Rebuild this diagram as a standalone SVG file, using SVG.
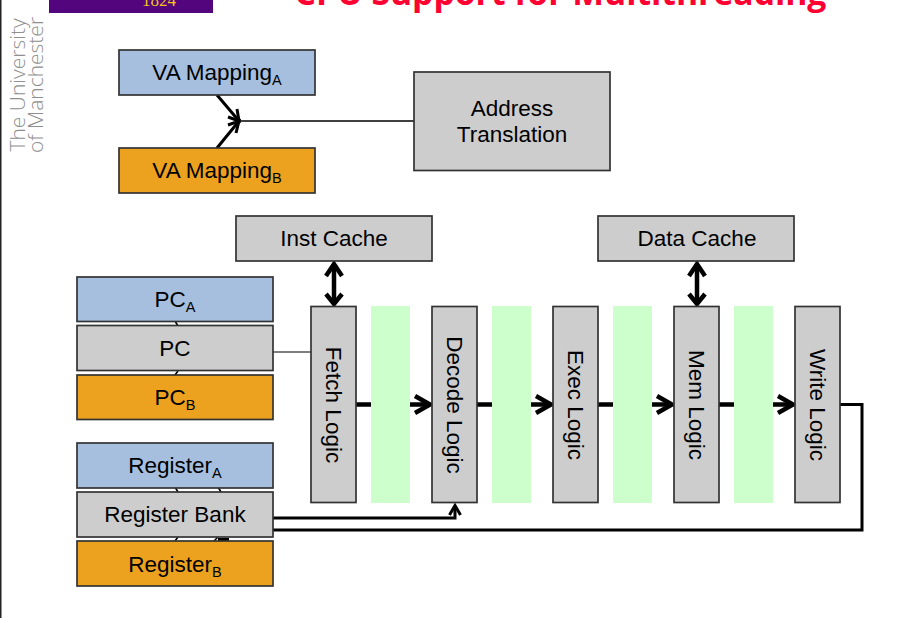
<svg xmlns="http://www.w3.org/2000/svg" width="899" height="618" viewBox="0 0 899 618">
<defs>
<style>
text{font-family:"Liberation Sans",Arial,sans-serif;fill:#000;text-anchor:middle}
.lbl{font-size:22.500px}
.sub{font-size:14.500px}
.box{stroke:#333;stroke-width:1.700}
.blue{fill:#a6bfdf}
.gold{fill:#eda21f}
.grey{fill:#cdcdcd}
.reg{fill:#ccffcc}
.thick{fill:none;stroke:#000;stroke-width:4.500}
.mid{fill:none;stroke:#000;stroke-width:3}
.thin{fill:none;stroke:#000;stroke-width:1.600}
.head{fill:none;stroke:#000;stroke-width:4.500}
</style>
</defs>
<rect width="899" height="618" fill="#fff"/>
<path d="M0.500 0V618" stroke="#222" stroke-width="2" fill="none"/>
<g id="logo">
<rect x="49" y="0" width="164" height="13" fill="#52057c"/>
<text x="159" y="6" style="font-family:'Liberation Serif',serif;font-size:17px;fill:#f5c518">1824</text>
<text transform="translate(25,85) rotate(-90)" style="font-family:'Open Sans',sans-serif;font-weight:300;font-size:21px;fill:#8f8f8f">The University</text>
<text transform="translate(43,85) rotate(-90)" style="font-family:'Open Sans',sans-serif;font-weight:300;font-size:21px;fill:#8f8f8f">of Manchester</text>
</g>
<text id="title" x="560.500" y="5" style="font-family:'Open Sans',sans-serif;font-weight:700;font-size:33.700px;fill:#ff0033">CPU Support for Multithreading</text>
<g id="connectors">
<path class="mid" d="M217 95L239 121M217 148L239 121"/>
<path class="mid" d="M228 117L239 121L237 109M228 125L239 121L236 133"/>
<path class="thin" d="M239 121H414"/>
<path class="thick" d="M334 264V304"/>
<path class="head" d="M326 276L334 264L342 276M326 294L334 304L342 294"/>
<path class="thick" d="M697 264V304"/>
<path class="head" d="M689 276L697 264L705 276M689 294L697 304L705 294"/>
<path d="M273 352H311" stroke="#555" stroke-width="1.700" fill="none"/>
<path class="thick" d="M356 404.500H429"/>
<path class="head" d="M415 396L430 404.500L415 413"/>
<path class="thick" d="M477 404.500H550"/>
<path class="head" d="M536 396L551 404.500L536 413"/>
<path class="thick" d="M598 404.500H671"/>
<path class="head" d="M657 396L672 404.500L657 413"/>
<path class="thick" d="M719 404.500H792"/>
<path class="head" d="M778 396L793 404.500L778 413"/>
<path class="mid" d="M840 404.500H862V530H273"/>
<path class="mid" d="M273 518H455V506"/>
<path class="mid" d="M449.500 515L455 505.500L460.500 515"/>
<path class="thin" d="M175 321L178 326M178 371L175 375M175 487L178 492M218 487L221 492M178 537L175 541M218 537L214 541"/>
<path class="mid" d="M218 539.500H229"/>
</g>
<g id="reg1"><rect class="reg" x="371" y="306" width="39" height="197"/></g>
<g id="reg2"><rect class="reg" x="492" y="306" width="39" height="197"/></g>
<g id="reg3"><rect class="reg" x="613" y="306" width="39" height="197"/></g>
<g id="reg4"><rect class="reg" x="734" y="306" width="39" height="197"/></g>
<g id="va-a"><rect class="box blue" x="119" y="50" width="196" height="45"/><text class="lbl" x="217" y="80">VA Mapping<tspan class="sub" dy="5">A</tspan></text></g>
<g id="va-b"><rect class="box gold" x="119" y="148" width="196" height="45"/><text class="lbl" x="217" y="178">VA Mapping<tspan class="sub" dy="5">B</tspan></text></g>
<g id="addr"><rect class="box grey" x="414" y="72" width="196" height="98.500"/><text class="lbl" x="512" y="116">Address</text><text class="lbl" x="512" y="142">Translation</text></g>
<g id="icache"><rect class="box grey" x="236" y="216" width="196" height="45"/><text class="lbl" x="334" y="246">Inst Cache</text></g>
<g id="dcache"><rect class="box grey" x="598" y="216" width="196" height="45"/><text class="lbl" x="697" y="246">Data Cache</text></g>
<g id="pc-a"><rect class="box blue" x="77" y="277" width="196" height="44.500"/><text class="lbl" x="175" y="307">PC<tspan class="sub" dy="5">A</tspan></text></g>
<g id="pc"><rect class="box grey" x="77" y="325.500" width="196" height="45"/><text class="lbl" x="175" y="356">PC</text></g>
<g id="pc-b"><rect class="box gold" x="77" y="375" width="196" height="44.500"/><text class="lbl" x="175" y="405">PC<tspan class="sub" dy="5">B</tspan></text></g>
<g id="reg-a"><rect class="box blue" x="77" y="443" width="196" height="45"/><text class="lbl" x="175" y="473">Register<tspan class="sub" dy="5">A</tspan></text></g>
<g id="regbank"><rect class="box grey" x="77" y="492" width="196" height="45"/><text class="lbl" x="175" y="522">Register Bank</text></g>
<g id="reg-b"><rect class="box gold" x="77" y="541" width="196" height="45"/><text class="lbl" x="175" y="572">Register<tspan class="sub" dy="5">B</tspan></text></g>
<g id="fetch"><rect class="box grey" x="311" y="306.500" width="45" height="196"/><text class="lbl" transform="translate(326,405) rotate(90)">Fetch Logic</text></g>
<g id="decode"><rect class="box grey" x="432" y="306.500" width="45" height="196"/><text class="lbl" transform="translate(447,405) rotate(90)">Decode Logic</text></g>
<g id="exec"><rect class="box grey" x="553" y="306.500" width="45" height="196"/><text class="lbl" transform="translate(568,405) rotate(90)">Exec Logic</text></g>
<g id="mem"><rect class="box grey" x="674" y="306.500" width="45" height="196"/><text class="lbl" transform="translate(689,405) rotate(90)">Mem Logic</text></g>
<g id="write"><rect class="box grey" x="795" y="306.500" width="45" height="196"/><text class="lbl" transform="translate(810,405) rotate(90)">Write Logic</text></g>
</svg>
